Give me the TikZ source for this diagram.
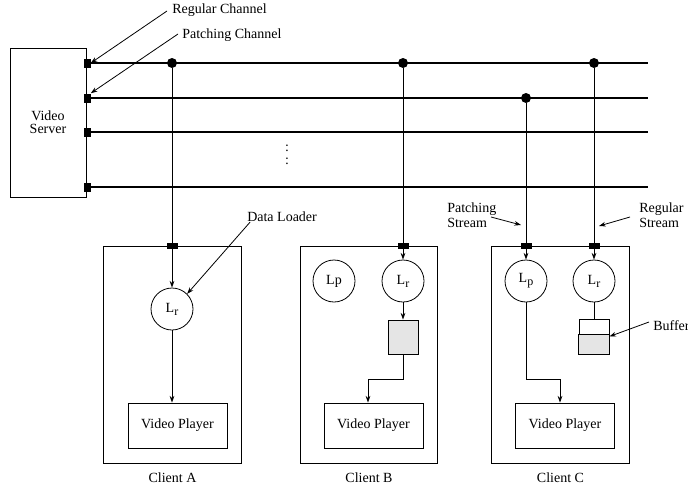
\documentclass[tikz,border=0pt]{standalone}
\usepackage{fontspec}
\setmainfont{Liberation Serif}
\usetikzlibrary{arrows.meta,calc}
\newcommand{\sub}[1]{\raisebox{-0.45ex}{\fontsize{9}{9}\selectfont #1}}
\begin{document}
\begin{tikzpicture}[x=0.75pt,y=-0.75pt,
  every node/.style={font=\fontsize{10.5}{12}\selectfont, inner sep=0pt},
  server/.style={draw, line width=0.6pt, minimum width=57pt, minimum height=111.75pt, align=center, font=\fontsize{10.5}{9.8}\selectfont},
  client/.style={draw, line width=0.6pt, minimum width=103pt, minimum height=162.75pt},
  player/.style={draw, line width=0.6pt, minimum width=74.25pt, minimum height=33.75pt},
  loader/.style={draw, circle, line width=0.6pt, minimum size=31.5pt},
  port/.style={fill=black, minimum width=8.25pt, minimum height=4.5pt},
  sport/.style={fill=black, minimum width=5.25pt, minimum height=6.75pt},
  junction/.style={circle, fill=black, minimum size=7.5pt},
  channel/.style={line width=1.5pt},
  feed/.style={line width=0.6pt},
  arr/.style={line width=0.6pt, -{Stealth[length=5pt,width=3.5pt]}},
  gbox/.style={draw, fill=gray!20, line width=0.6pt, minimum width=22.5pt, minimum height=25.5pt},
  wbox/.style={draw, fill=white, line width=0.6pt, minimum width=22.5pt, minimum height=26.25pt},
  lbl/.style={anchor=west, align=left, font=\fontsize{10.5}{11.5}\selectfont}
]
\useasboundingbox (0,0) rectangle (688,496);

% video server
\node[server] (srv) at (48,122.5) {Video\\Server};

% channel ends
\coordinate (e1) at (648,63);
\coordinate (e2) at (648,98);
\coordinate (e3) at (648,132);
\coordinate (e4) at (648,187);
\node[sport] (s1) at (87,63) {};
\node[sport] (s2) at (87,98) {};
\node[sport] (s3) at (87,132) {};
\node[sport] (s4) at (87,187) {};
\draw[channel] (s1) -- (e1);
\draw[channel] (s2) -- (e2);
\draw[channel] (s3) -- (e3);
\draw[channel] (s4) -- (e4);

% junctions
\node[junction] (jA) at (172,63) {};
\node[junction] (jB) at (403,63) {};
\node[junction] (jCp) at (526,98) {};
\node[junction] (jCr) at (594,63) {};

% vertical dots
\node (d1) at (287,148) {:};
\node (d2) at (287,161) {:};

% clients
\node[client] (cA) at (172.5,354.5) {};
\node[client] (cB) at (369,354.5) {};
\node[client] (cC) at (560.5,354.5) {};

\node[loader] (LrA) at (172,309) {L\sub{r}};
\node[loader] (LpB) at (334,281) {Lp};
\node[loader] (LrB) at (403,281) {L\sub{r}};
\node[loader] (LpC) at (526,281) {L\sub{p}};
\node[loader] (LrC) at (594,281) {L\sub{r}};

\node[player] (vpA) at (177.5,425.5) {Video Player};
\node[player] (vpB) at (373.5,425.5) {Video Player};
\node[player] (vpC) at (565,425.5) {Video Player};

\node[gbox] (bufB) at (403,337) {};
\node[wbox] (bufC) at (594,336.5) {};
\draw[fill=gray!20, line width=0.6pt] (bufC.south west) rectangle (bufC.east |- 0,334);

% feeds
\draw[arr] (jA) -- (LrA.north);
\draw[arr] (jB) -- (LrB.north);
\draw[arr] (jCp) -- (LpC.north);
\draw[arr] (jCr) -- (LrC.north);

\node[port] (pA) at (cA.north -| jA) {};
\node[port] (pB) at (cB.north -| jB) {};
\node[port] (pCp) at (cC.north -| jCp) {};
\node[port] (pCr) at (cC.north -| jCr) {};

% inside clients
\draw[arr] (LrA.south) -- (LrA.south |- vpA.north);
\draw[arr] (LrB.south) -- (bufB.north);
\coordinate (kB) at (368,379);
\draw[arr] (bufB.south) |- (kB) -- (kB |- vpB.north);
\draw[feed] (LrC.south) -- (bufC.north);
\coordinate (kC) at (560,379);
\draw[arr] (LpC.south) |- (kC) -- (kC |- vpC.north);

% client labels
\node (lA) at (172.5,478) {Client A};
\node (lB) at (369,478) {Client B};
\node (lC) at (560.5,478) {Client C};

% annotations
\node[lbl] (tRC) at (172,10) {Regular Channel};
\node[lbl] (tPC) at (182,35) {Patching Channel};
\draw[arr] (tRC.west) ++(-5,1) coordinate (aRC) (aRC) -- (s1.east);
\draw[arr] (tPC.west) ++(-4,-1) coordinate (aPC) (aPC) -- (s2.north east);
\node[lbl] (tDL) at (247,217) {Data Loader};
\draw[arr] ($(tDL.south west)+(3,0)$) coordinate (aDL) -- (LrA.north east);
\node[lbl] (tPS) at (447,215) {Patching\\Stream};
\coordinate (aPS) at (491,217);
\coordinate (hPS) at (521,225);
\draw[arr] (aPS) -- (hPS);
\node[lbl] (tRS) at (639,215) {Regular\\Stream};
\coordinate (aRS) at (630,217);
\coordinate (hRS) at (599,226);
\draw[arr] (aRS) -- (hRS);
\node[lbl] (tBf) at (653,326) {Buffer};
\coordinate (aBf) at (649,322);
\draw[arr] (aBf) -- (bufC.east);
\end{tikzpicture}
\end{document}
